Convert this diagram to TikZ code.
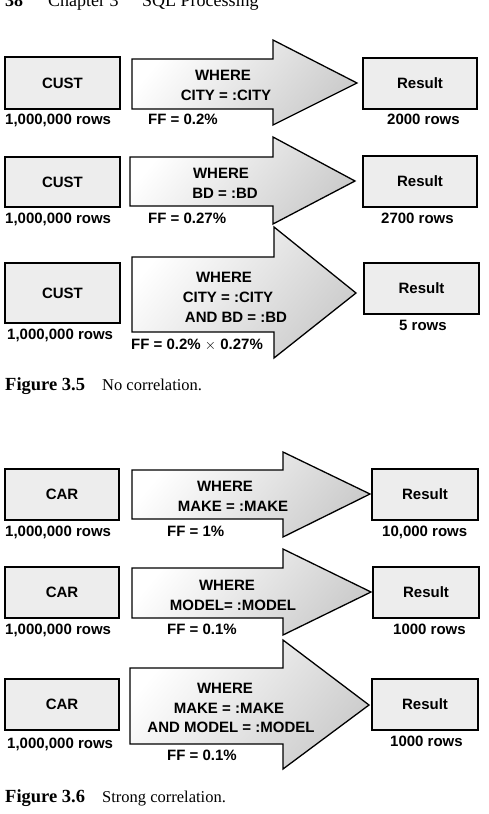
\documentclass[tikz,border=0pt]{standalone}
\usepackage{fontspec}
\setmainfont{Liberation Sans}
\newfontfamily\capserif{Liberation Serif}
\begin{document}
\begin{tikzpicture}[x=1pt,y=-1pt,
  tbox/.style={draw=black,line width=1.6pt,fill=black!7,inner sep=0pt,
    font=\fontsize{15}{18}\selectfont\bfseries},
  arrowshape/.style={draw=black,line width=1.3pt,top color=white,middle color=black!3,bottom color=black!20,shading angle=50},
  atext/.style={anchor=base,inner sep=0pt,font=\fontsize{15}{18}\selectfont\bfseries},
  ltext/.style={anchor=base west,inner sep=0pt,font=\fontsize{15}{18}\selectfont\bfseries},
  ctext/.style={anchor=base,inner sep=0pt,font=\fontsize{15}{18}\selectfont\bfseries},
  captext/.style={anchor=base west,inner sep=0pt}]
\useasboundingbox (0,0) rectangle (488,814);

% header (partly cut off, as in the reference)
\node[captext] (h1) at (5,6.5) {\capserif\fontsize{18}{20}\selectfont\bfseries 38};
\node[captext] (h2) at (48,6.5) {\capserif\fontsize{18}{20}\selectfont Chapter 3};
\node[captext] (h3) at (142,6.5) {\capserif\fontsize{18}{20}\selectfont SQL Processing};

% ---------- Row 1
\node[tbox,minimum width=115pt,minimum height=52pt] (c1) at (62.5,83) {CUST};
\draw[arrowshape] (132,59) -- (273,59) -- (273,40) -- (357,83) -- (273,125) -- (273,109) -- (132,109) -- cycle;
\node[atext] (w1a) at (223,80.5) {WHERE};
\node[atext] (w1b) at (226,100.5) {CITY = :CITY};
\node[tbox,minimum width=114pt,minimum height=51pt] (r1) at (420,83.5) {Result};
\node[ltext] (l1a) at (5,124.5) {1,000,000 rows};
\node[ltext] (l1b) at (148,124.5) {FF = 0.2\%};
\node[ltext] (l1c) at (387,124.5) {2000 rows};

% ---------- Row 2
\node[tbox,minimum width=115pt,minimum height=50pt] (c2) at (62.5,182) {CUST};
\draw[arrowshape] (130,157) -- (273,157) -- (273,137) -- (355,181) -- (273,224) -- (273,206) -- (130,206) -- cycle;
\node[atext] (w2a) at (221,178.5) {WHERE};
\node[atext] (w2b) at (225,198.5) {BD = :BD};
\node[tbox,minimum width=114pt,minimum height=51pt] (r2) at (420,181.5) {Result};
\node[ltext] (l2a) at (5,223.5) {1,000,000 rows};
\node[ltext] (l2b) at (148,223.5) {FF = 0.27\%};
\node[ltext] (l2c) at (381,223.5) {2700 rows};

% ---------- Row 3
\node[tbox,minimum width=115pt,minimum height=60pt] (c3) at (62.5,293) {CUST};
\draw[arrowshape] (132,257) -- (274,257) -- (274,227) -- (356,293) -- (274,358) -- (274,332) -- (132,332) -- cycle;
\node[atext] (w3a) at (224,282.5) {WHERE};
\node[atext] (w3b) at (228,302.5) {CITY = :CITY};
\node[atext] (w3c) at (236,322.5) {AND BD = :BD};
\node[tbox,minimum width=115pt,minimum height=51pt] (r3) at (421.5,288.5) {Result};
\node[ltext] (l3a) at (7,339.5) {1,000,000 rows};
\node[ltext] (l3b) at (131,349.5) {FF = 0.2\% $\times$ 0.27\%};
\node[ctext] (l3c) at (423,330.5) {5 rows};

% caption 3.5
\node[captext] (cap1) at (5,390.5) {\capserif\fontsize{18.5}{20}\selectfont\bfseries Figure 3.5};
\node[captext] (cap1b) at (102,390.5) {\capserif\fontsize{16.5}{20}\selectfont No correlation.};

% ---------- Row 4
\node[tbox,minimum width=114pt,minimum height=51pt] (c4) at (62,494.5) {CAR};
\draw[arrowshape] (132,470) -- (283,470) -- (283,452) -- (370,494) -- (283,537) -- (283,519) -- (132,519) -- cycle;
\node[atext] (w4a) at (225,491.5) {WHERE};
\node[atext] (w4b) at (233,511.5) {MAKE = :MAKE};
\node[tbox,minimum width=106pt,minimum height=51pt] (r4) at (425,494.5) {Result};
\node[ltext] (l4a) at (5,536.5) {1,000,000 rows};
\node[ltext] (l4b) at (167,536.5) {FF = 1\%};
\node[ltext] (l4c) at (382,536.5) {10,000 rows};

% ---------- Row 5
\node[tbox,minimum width=114pt,minimum height=51pt] (c5) at (62,592.5) {CAR};
\draw[arrowshape] (132,568) -- (283,568) -- (283,549) -- (371,592) -- (283,635) -- (283,618) -- (132,618) -- cycle;
\node[atext] (w5a) at (227,590.5) {WHERE};
\node[atext] (w5b) at (233,610.5) {MODEL= :MODEL};
\node[tbox,minimum width=106pt,minimum height=51pt] (r5) at (426,592.5) {Result};
\node[ltext] (l5a) at (5,634.5) {1,000,000 rows};
\node[ltext] (l5b) at (167,634.5) {FF = 0.1\%};
\node[ltext] (l5c) at (393,634.5) {1000 rows};

% ---------- Row 6
\node[tbox,minimum width=114pt,minimum height=51pt] (c6) at (62,704.5) {CAR};
\draw[arrowshape] (130,668) -- (283,668) -- (283,640) -- (369,705) -- (283,769) -- (283,744) -- (130,744) -- cycle;
\node[atext] (w6a) at (225,693.5) {WHERE};
\node[atext] (w6b) at (229,713.5) {MAKE = :MAKE};
\node[atext] (w6c) at (231,732.5) {AND MODEL = :MODEL};
\node[tbox,minimum width=106pt,minimum height=51pt] (r6) at (425,704.5) {Result};
\node[ltext] (l6a) at (7,748.5) {1,000,000 rows};
\node[ltext] (l6b) at (167,760.5) {FF = 0.1\%};
\node[ltext] (l6c) at (390,746.5) {1000 rows};

% caption 3.6
\node[captext] (cap2) at (5,802.5) {\capserif\fontsize{18.5}{20}\selectfont\bfseries Figure 3.6};
\node[captext] (cap2b) at (102,802.5) {\capserif\fontsize{16.5}{20}\selectfont Strong correlation.};
\end{tikzpicture}
\end{document}
